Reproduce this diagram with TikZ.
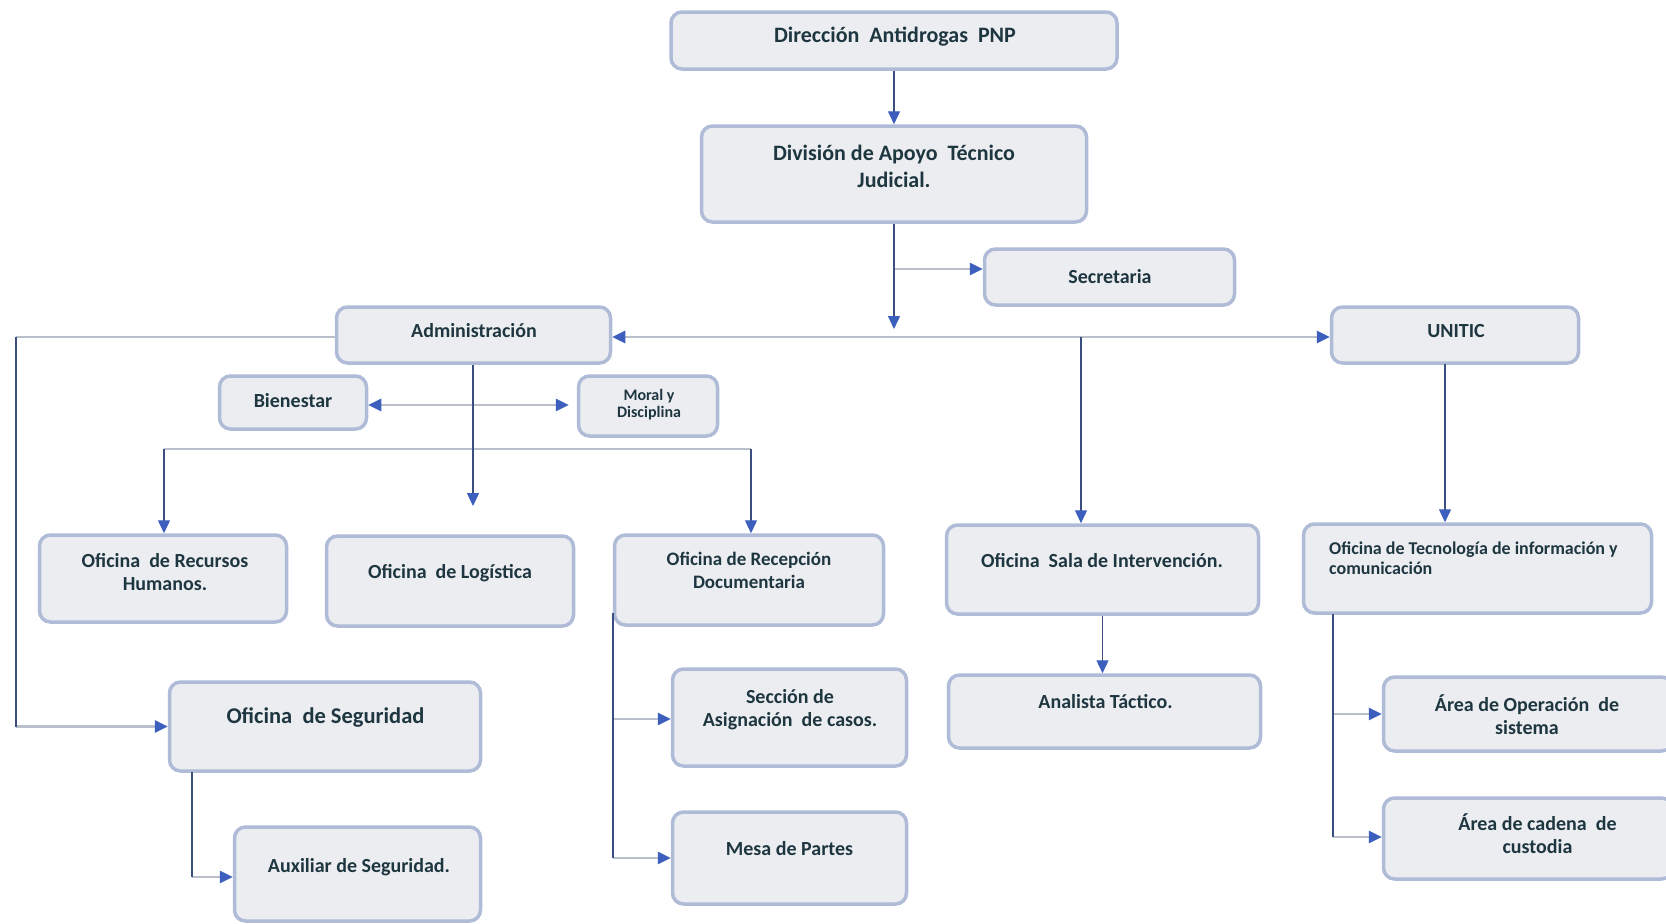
\documentclass[tikz,border=0pt]{standalone}
\usepackage{fontspec}
\setmainfont{Carlito}
\usetikzlibrary{arrows.meta}
\definecolor{bfill}{RGB}{236,237,241}
\definecolor{bborder}{RGB}{176,187,216}
\definecolor{tcol}{RGB}{30,54,64}
\definecolor{hgray}{RGB}{186,192,203}
\definecolor{vblue}{RGB}{58,78,130}
\definecolor{ablue}{RGB}{60,95,190}
\newcommand\fA{\fontsize{20}{23}\selectfont}
\newcommand\fB{\fontsize{22}{27}\selectfont}
\newcommand\fC{\fontsize{16}{17}\selectfont}
\newcommand\mybox[5]{\node[box, minimum width=#4pt, minimum height=#5pt] (#1) at (#2,#3) {};}
\begin{document}
\begin{tikzpicture}[x=1pt,y=-1pt,
 box/.style={draw=bborder, line width=3.5pt, fill=bfill, rounded corners=11pt, inner sep=0pt},
 txt/.style={text=tcol, font=\bfseries\fA, align=center, inner sep=0pt},
 hl/.style={draw=hgray, line width=2.8pt},
 vl/.style={draw=vblue, line width=1.3pt},
 tip/.style={-{Triangle[length=13pt,width=12pt,color=ablue]}},
 tips/.style={{Triangle[length=13pt,width=12pt,color=ablue]}-{Triangle[length=13pt,width=12pt,color=ablue]}}]
\useasboundingbox (0,0) rectangle (1666,924);
\fill[white] (0,0) rectangle (1666,924);
\clip (0,0) rectangle (1666,924);
% boxes
\mybox{dir}{894}{40.5}{446}{57}
\mybox{div}{894}{174}{385}{96}
\mybox{sec}{1109.5}{277}{250}{56}
\mybox{adm}{473.5}{335}{274}{56}
\mybox{uni}{1455}{335}{247}{56}
\mybox{bie}{293}{402.5}{147}{53}
\mybox{mor}{648}{406}{139}{60}
\mybox{rrhh}{163}{578.5}{247}{87}
\mybox{log}{450}{581}{247}{90}
\mybox{rec}{749}{580}{269}{90}
\mybox{sala}{1102.5}{569.5}{312}{89}
\mybox{tec}{1477.5}{568.5}{348}{89}
\mybox{seg}{325}{726.5}{311}{89}
\mybox{aux}{357.5}{874}{246}{94}
\mybox{secc}{789.5}{717.5}{234}{97}
\mybox{mesa}{789.5}{858}{234}{92}
\mybox{ana}{1104.5}{711.5}{312}{73}
\mybox{aop}{1528}{714}{289}{74}
\mybox{acad}{1528}{838.5}{289}{81}
% coordinates
\coordinate (b1) at (894,269);
\coordinate (d1) at (894,329);
\coordinate (hm) at (955,337);
\coordinate (s0) at (1081,337);
\coordinate (u0) at (1445,364);
\coordinate (aL) at (16,337);
\coordinate (lg) at (473,506);
\coordinate (bm) at (0,405);
\coordinate (r0) at (164,449);
\coordinate (r1) at (751,449);
\coordinate (g0) at (192,772);
\coordinate (g1) at (192,877);
\coordinate (c0) at (613,613);
\coordinate (c1) at (613,719);
\coordinate (c2) at (613,858);
\coordinate (t0) at (1333,614);
\coordinate (t1) at (1333,714);
\coordinate (t2) at (1333,837);
% horizontal connectors
\draw[hl,tip] (b1) -- (b1 -| sec.west);
\draw[hl,tips] (adm.east |- hm) -- (uni.west |- hm);
\draw[hl] (adm.west |- aL) -- (aL);
\draw[hl,tip] (aL |- seg.west) -- (seg.west);
\draw[hl,tips,shorten >=8pt] (bie.east |- bm) -- (mor.west |- bm);
\draw[hl] (r0) -- (r1);
\draw[hl,tip] (g1) -- (g1 -| aux.west);
\draw[hl,tip] (c1) -- (c1 -| secc.west);
\draw[hl,tip] (c2) -- (c2 -| mesa.west);
\draw[hl,tip] (t1) -- (t1 -| aop.west);
\draw[hl,tip] (t2) -- (t2 -| acad.west);
% vertical connectors
\draw[vl,tip] (dir.south) -- (div.north);
\draw[vl,tip] (div.south) -- (d1);
\draw[vl,tip] (s0) -- (s0 |- sala.north);
\draw[vl,tip] (u0) -- (u0 |- tec.north);
\draw[vl] (aL) -- (aL |- seg.west);
\draw[vl,tip] (lg |- adm.south) -- (lg);
\draw[vl,tip] (r0) -- (r0 |- rrhh.north);
\draw[vl,tip] (r1) -- (r1 |- rec.north);
\draw[vl] (g0) -- (g1);
\draw[vl] (c0) -- (c2);
\draw[vl,tip] (sala.south) -- (sala.south |- ana.north);
\draw[vl] (t0) -- (t2);
% texts
\node[txt,font=\bfseries\fB] (dirT) at (895,37) {Dirección\ \ Antidrogas\ \ PNP};
\node[txt,font=\bfseries\fB] (divT) at (894,166.5) {División de Apoyo\ \ Técnico\\Judicial.};
\node[txt] (secT) at (1110,277) {Secretaria};
\node[txt] (admT) at (474,331) {Administración};
\node[txt] (uniT) at (1456,331) {UNITIC};
\node[txt] (bieT) at (293,401) {Bienestar};
\node[txt,font=\bfseries\fC] (morT) at (649,404.5) {Moral y\\Disciplina};
\node[txt] (rrhhT) at (165,572.5) {Oficina\ \ de Recursos\\Humanos.};
\node[txt] (logT) at (450,573) {Oficina\ \ de Logística};
\node[txt,font=\bfseries\fontsize{19}{23}\selectfont] (recT) at (749,570.5) {Oficina de Recepción\\Documentaria};
\node[txt] (salaT) at (1102,561) {Oficina\ \ Sala de Intervención.};
\node[txt,anchor=west,align=left,font=\bfseries\fontsize{18}{20}\selectfont] (tecT) at (1329,558.5) {Oficina de Tecnología de información y\\comunicación};
\node[txt,font=\bfseries\fontsize{22.5}{26}\selectfont] (segT) at (325.5,717) {Oficina\ \ de Seguridad};
\node[txt] (auxT) at (359,867) {Auxiliar de Seguridad.};
\node[txt] (seccT) at (790,710) {Sección de\\Asignación\ \ de casos.};
\node[txt] (mesaT) at (789.5,849) {Mesa de Partes};
\node[txt] (anaT) at (1105.5,702) {Analista Táctico.};
\node[txt] (aopT) at (1527,714.5) {Área de Operación\ \ de\\sistema};
\node[txt] (acadT) at (1537.5,834) {Área de cadena\ \ de\\custodia};
\end{tikzpicture}
\end{document}
